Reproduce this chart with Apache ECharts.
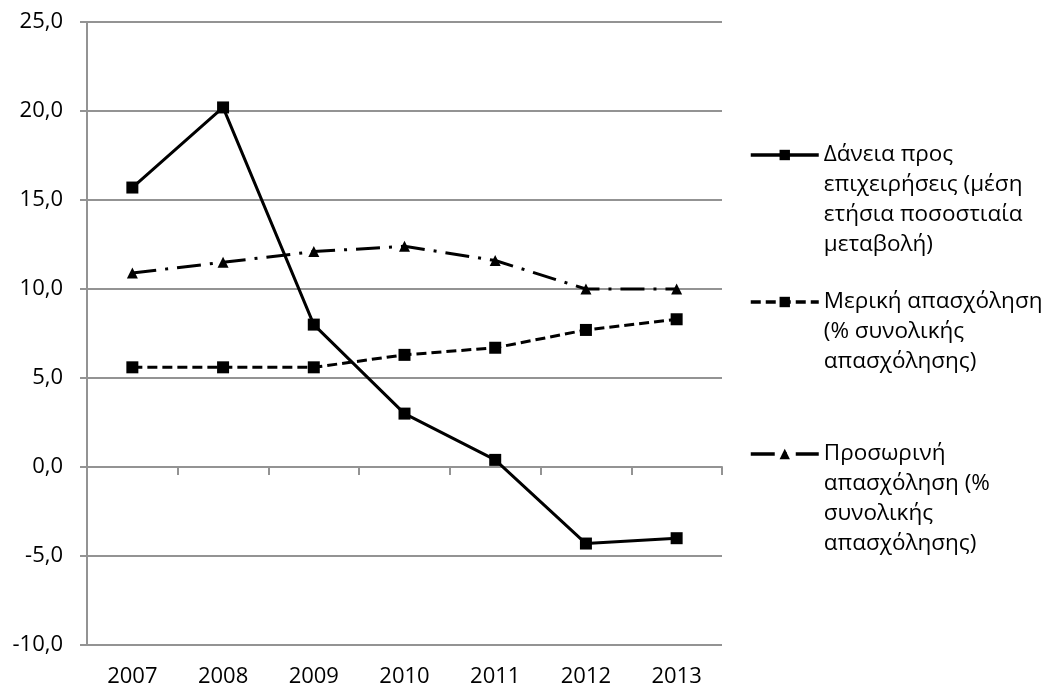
<!DOCTYPE html>
<html>
<head>
<meta charset="utf-8">
<script src="https://cdn.jsdelivr.net/npm/echarts@6/dist/echarts.min.js"></script>
<style>
  html, body { margin: 0; padding: 0; background: #fff; }
  #chart { width: 1048px; height: 691px; }
</style>
</head>
<body>
<div id="chart"></div>
<script>
// Years on the category axis
const years = ['2007', '2008', '2009', '2010', '2011', '2012', '2013'];

// Loans to businesses (average annual % change)
const loans = [15.7, 20.2, 8.0, 3.0, 0.4, -4.3, -4.0];
// Part-time employment (% of total employment)
const partTime = [5.6, 5.6, 5.6, 6.3, 6.7, 7.7, 8.3];
// Temporary employment (% of total employment)
const temporary = [10.9, 11.5, 12.1, 12.4, 11.6, 10.0, 10.0];

// Series names, as shown in the legend (line breaks included)
const nameLoans = 'Δάνεια προς\nεπιχειρήσεις (μέση\nετήσια ποσοστιαία\nμεταβολή)';
const namePart = 'Μερική απασχόληση\n(% συνολικής\nαπασχόλησης)';
const nameTemp = 'Προσωρινή\nαπασχόληση (%\nσυνολικής\nαπασχόλησης)';

// Value axis range
const yMin = -10, yMax = 25, yStep = 5;

const FONT = 'Open Sans';
const TEXT = '#000000';
const GRID = '#939393';
const LH = 30;

// Pad each legend label with blank lines so the icon sits beside the first line
function padTop(name) {
  const n = name.split('\n').length - 1;
  return '\n'.repeat(n) + name;
}

function legendFor(name, top) {
  return {
    data: [name],
    left: 749,
    top: top,
    orient: 'vertical',
    padding: 0,
    itemWidth: 68,
    itemHeight: 13,
    selectedMode: false,
    formatter: padTop,
    lineStyle: { width: 3.5 },
    textStyle: { fontFamily: FONT, fontSize: 22.5, color: TEXT, lineHeight: LH }
  };
}

const chart = echarts.init(document.getElementById('chart'), null, { renderer: 'canvas' });

chart.setOption({
  animation: false,
  backgroundColor: '#ffffff',
  grid: { left: 87, right: 326, top: 22, bottom: 46, containLabel: false },
  legend: [
    legendFor(nameLoans, 50),
    legendFor(namePart, 227),
    legendFor(nameTemp, 349)
  ],
  xAxis: [
    {
      // labels along the bottom edge
      type: 'category',
      data: years,
      position: 'bottom',
      boundaryGap: true,
      axisLine: { show: false, onZero: false },
      axisTick: { show: false },
      splitLine: { show: false },
      axisLabel: { fontFamily: FONT, fontSize: 22, color: TEXT, margin: 21 }
    },
    {
      // axis line crossing at zero with its tick marks
      type: 'category',
      data: years,
      position: 'bottom',
      boundaryGap: true,
      axisLine: { show: true, onZero: true, lineStyle: { color: GRID, width: 2 } },
      axisTick: { show: true, length: 8, lineStyle: { color: GRID, width: 2 } },
      axisLabel: { show: false },
      splitLine: { show: false }
    }
  ],
  yAxis: {
    type: 'value',
    min: yMin,
    max: yMax,
    interval: yStep,
    axisLine: { show: true, lineStyle: { color: GRID, width: 2 } },
    axisTick: { show: true, length: 7, lineStyle: { color: GRID, width: 2 } },
    splitLine: { show: true, lineStyle: { color: GRID, width: 2 } },
    axisLabel: {
      fontFamily: FONT, fontSize: 22, color: TEXT, margin: 24,
      formatter: v => v.toFixed(1).replace('.', ',')
    }
  },
  series: [
    {
      name: nameTemp,
      type: 'line',
      xAxisIndex: 0,
      data: temporary,
      symbol: 'triangle',
      symbolSize: 11,
      itemStyle: { color: '#000' },
      lineStyle: { color: '#000', width: 3, type: [24, 9, 3, 9] },
      z: 3
    },
    {
      name: namePart,
      type: 'line',
      xAxisIndex: 0,
      data: partTime,
      symbol: 'rect',
      symbolSize: 12,
      itemStyle: { color: '#000' },
      lineStyle: { color: '#000', width: 3, type: [10, 5] },
      z: 4
    },
    {
      name: nameLoans,
      type: 'line',
      xAxisIndex: 0,
      data: loans,
      symbol: 'rect',
      symbolSize: 12,
      itemStyle: { color: '#000' },
      lineStyle: { color: '#000', width: 3, type: 'solid' },
      z: 5
    }
  ]
});
</script>
</body>
</html>
